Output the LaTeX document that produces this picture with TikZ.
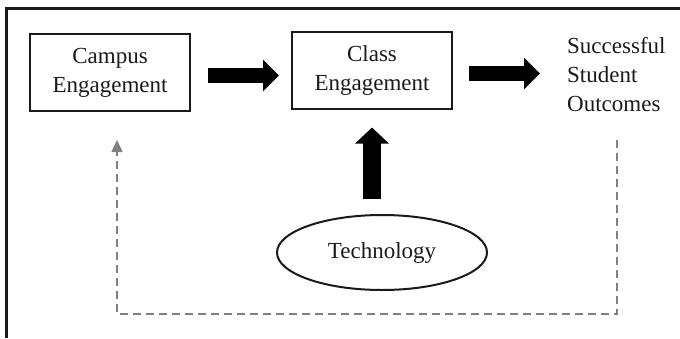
\documentclass[tikz,border=0pt]{standalone}
\usepackage{fontspec}
\setmainfont{Liberation Serif}
\usetikzlibrary{arrows.meta,shapes.geometric,calc}
\definecolor{inkdark}{HTML}{1A1A1A}
\definecolor{loopgray}{HTML}{808080}
\begin{document}
\begin{tikzpicture}[x=1pt,y=-1pt,
  every node/.style={font=\fontsize{23}{29}\selectfont, text=inkdark},
  stagebox/.style={draw=inkdark, line width=2pt, minimum width=160pt,
    minimum height=77pt, align=center, inner sep=0pt},
  bigarrow/.style={black, line width=15pt,
    -{Triangle[width=31pt,length=16pt]}},
  uparrow/.style={black, line width=18pt,
    -{Triangle[width=33pt,length=16pt]}},
  feedback/.style={loopgray, line width=1.5pt, dash pattern=on 8pt off 5pt,
    -{Triangle[width=11pt,length=12pt]}}]
\useasboundingbox (0,0) rectangle (680,338);

% outer frame (left and top edges)
\draw[inkdark, line width=3pt] (6.5,338) -- (6.5,8) -- (680,8);

% stages
\node[stagebox] (campus) at (110,72.5) {Campus\\Engagement};
\node[stagebox] (class) at (372,70) {Class\\Engagement};
\node[align=left, inner sep=0pt, anchor=west] (outcomes) at (567,74.5)
  {Successful\\Student\\Outcomes};
\node[draw=inkdark, line width=2pt, ellipse, minimum width=210pt,
  minimum height=75pt, inner sep=0pt] (tech) at (382,252.5) {Technology};

% main flow
\draw[bigarrow, shorten <=17pt, shorten >=12pt]
  ([yshift=-3pt]campus.east) -- ([yshift=-5.5pt]class.west);
\draw[bigarrow, shorten <=16pt, shorten >=27pt]
  ([yshift=-3.5pt]class.east) -- ([yshift=-3.5pt]class.east -| outcomes.west);
\draw[uparrow, shorten <=15pt, shorten >=18pt]
  (class.south |- tech.north) -- (class.south);

% feedback loop
\coordinate (fbstart) at (617,140);
\coordinate (fbend) at (117,140);
\draw[feedback] (fbstart) -- (617,314) -- (117,314) -- (fbend);
\end{tikzpicture}
\end{document}
